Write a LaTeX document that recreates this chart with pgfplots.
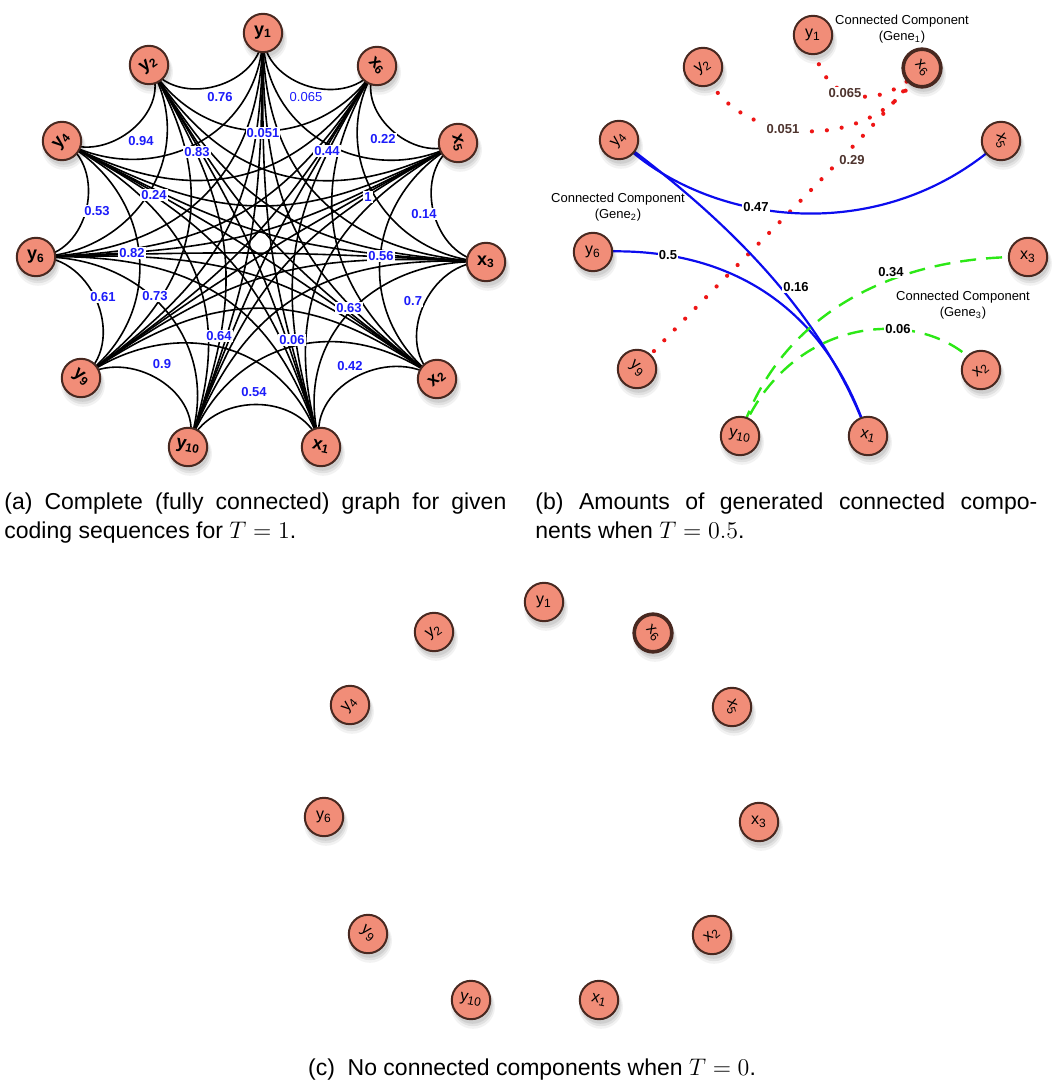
\documentclass[border=0pt]{standalone}
\usepackage{fontspec}
\setmainfont{Liberation Sans}
\setsansfont{Liberation Sans}
\usepackage{pgfplots}
\pgfplotsset{compat=1.18}
\usepackage{pgfplotstable}

\definecolor{nodefill}{RGB}{241,141,120}
\definecolor{nodedraw}{RGB}{72,40,32}
\definecolor{wblue}{RGB}{28,28,250}
\definecolor{wbrown}{RGB}{78,52,46}
\definecolor{cblue}{RGB}{12,12,238}
\definecolor{cgreen}{RGB}{44,232,22}
\definecolor{cred}{RGB}{238,22,22}

% vertex positions, clockwise from y1, with the name and its rotation
\pgfplotstableread{
x y rot name
263 33 0 y\textsubscript{1}
377 66 -45 x\textsubscript{6}
458 143 -75 x\textsubscript{5}
486 262 0 x\textsubscript{3}
437 379 40 x\textsubscript{2}
321 447 -12 x\textsubscript{1}
188 447 -10 y\textsubscript{10}
81 378 -40 y\textsubscript{9}
36 257 0 y\textsubscript{6}
62 141 50 y\textsubscript{4}
149 65 35 y\textsubscript{2}
}\vertA
\pgfplotstableread{
x y rot name
813 35 0 y\textsubscript{1}
922 68 -45 x\textsubscript{6}
1001 141 -75 x\textsubscript{5}
1028 257 0 x\textsubscript{3}
981 370 40 x\textsubscript{2}
868 436 -12 x\textsubscript{1}
740 436 -10 y\textsubscript{10}
637 369 -40 y\textsubscript{9}
593 252 0 y\textsubscript{6}
619 140 50 y\textsubscript{4}
703 67 35 y\textsubscript{2}
}\vertB
\pgfplotstableread{
x y rot name
544 602 0 y\textsubscript{1}
653 633 -45 x\textsubscript{6}
732 707 -75 x\textsubscript{5}
759 822 0 x\textsubscript{3}
712 935 40 x\textsubscript{2}
599 1000 -12 x\textsubscript{1}
471 1000 -10 y\textsubscript{10}
368 934 -40 y\textsubscript{9}
324 817 0 y\textsubscript{6}
350 705 50 y\textsubscript{4}
434 632 35 y\textsubscript{2}
}\vertC

\tikzset{
  wlabel/.style={font=\fontsize{6.5}{7}\selectfont\bfseries, text=wblue, fill=white, inner sep=0.6pt},
  wlabelthin/.style={font=\fontsize{6.5}{7}\selectfont, text=wblue, fill=white, inner sep=0.6pt},
  blabel/.style={font=\fontsize{6.5}{7}\selectfont\bfseries, text=black, fill=white, inner sep=0.6pt},
  rlabel/.style={font=\fontsize{6.5}{7}\selectfont\bfseries, text=wbrown, fill=white, inner sep=0.8pt},
  ccnote/.style={font=\fontsize{6.5}{8}\selectfont, align=center, inner sep=0pt},
  capt/.style={font=\fontsize{11.5}{14.5}\selectfont, inner sep=0pt},
  edgeA/.style={black, line width=0.8pt},
  blueedge/.style={cblue, line width=1.1pt},
  greenedge/.style={cgreen, line width=1.2pt, dash pattern=on 8pt off 5pt},
  rededge/.style={cred, line width=2.1pt, line cap=round, dash pattern=on 0pt off 7.5pt},
}

% shadow, disc and name of every vertex of one panel
\newcommand{\vertices}[2]{%
  \addplot[only marks, mark=*, mark size=11pt,
    mark options={draw opacity=0, fill=black, fill opacity=0.05, xshift=1pt, yshift=-3.4pt}] table[x=x, y=y] {#1};
  \addplot[only marks, mark=*, mark size=10.3pt,
    mark options={draw opacity=0, fill=black, fill opacity=0.07, xshift=1pt, yshift=-2.8pt}] table[x=x, y=y] {#1};
  \addplot[only marks, mark=*, mark size=9.8pt,
    mark options={draw opacity=0, fill=black, fill opacity=0.08, xshift=0.8pt, yshift=-2.1pt}] table[x=x, y=y] {#1};
  \addplot[only marks, mark=*, mark size=9.6pt,
    mark options={draw=nodedraw, line width=1pt, fill=nodefill},
    point meta=explicit symbolic,
    visualization depends on={\thisrow{rot} \as \vrot},
    nodes near coords,
    nodes near coords align={center},
    every node near coord/.append style={font=#2, text=black, inner sep=0pt, anchor=center, rotate=\vrot},
  ] table[x=x, y=y, meta=name] {#1};
}

\begin{document}
\begin{tikzpicture}
\begin{axis}[
  x=0.5pt, y=0.5pt, y dir=reverse,
  xmin=0, xmax=1055, ymin=0, ymax=1080,
  hide axis, clip=false,
]
% keep the whole drawing area in the picture
\path (rel axis cs:0,0) rectangle (rel axis cs:1,1);

% ---------- (a) complete graph ----------
% every edge leaves its vertex heading for the centre (261,250);
% the handle length is 0.45 of the chord
\foreach \i in {0,...,10}{%
  \foreach \j in {0,...,10}{%
    \ifnum\j>\i\relax
      \pgfplotstablegetelem{\i}{x}\of\vertA\let\ax\pgfplotsretval
      \pgfplotstablegetelem{\i}{y}\of\vertA\let\ay\pgfplotsretval
      \pgfplotstablegetelem{\j}{x}\of\vertA\let\bx\pgfplotsretval
      \pgfplotstablegetelem{\j}{y}\of\vertA\let\by\pgfplotsretval
      \pgfmathsetmacro\dd{45*veclen((\bx-\ax)/100,(\by-\ay)/100)}%
      \pgfmathsetmacro\la{100*veclen((261-\ax)/100,(250-\ay)/100)}%
      \pgfmathsetmacro\lb{100*veclen((261-\bx)/100,(250-\by)/100)}%
      \pgfmathsetmacro\uax{(261-\ax)/\la}%
      \pgfmathsetmacro\uay{(250-\ay)/\la}%
      \pgfmathsetmacro\ubx{(261-\bx)/\lb}%
      \pgfmathsetmacro\uby{(250-\by)/\lb}%
      \pgfmathsetmacro\px{\ax+\dd*\uax}%
      \pgfmathsetmacro\py{\ay+\dd*\uay}%
      \pgfmathsetmacro\qx{\bx+\dd*\ubx}%
      \pgfmathsetmacro\qy{\by+\dd*\uby}%
      \edef\temp{\noexpand\draw[edgeA] (axis cs:\ax,\ay) .. controls (axis cs:\px,\py) and (axis cs:\qx,\qy) .. (axis cs:\bx,\by);}%
      \temp
    \fi
  }%
}

\node[wlabel] at (axis cs:220,97) {0.76};
\node[wlabelthin] at (axis cs:306,97) {0.065};
\node[wlabel] at (axis cs:263,133) {0.051};
\node[wlabel] at (axis cs:141,141) {0.94};
\node[wlabel] at (axis cs:197,152) {0.83};
\node[wlabel] at (axis cs:327,151) {0.44};
\node[wlabel] at (axis cs:383,139) {0.22};
\node[wlabel] at (axis cs:154,195) {0.24};
\node[wlabel] at (axis cs:368,197) {1};
\node[wlabel] at (axis cs:97,211) {0.53};
\node[wlabel] at (axis cs:424,214) {0.14};
\node[wlabel] at (axis cs:132,253) {0.82};
\node[wlabel] at (axis cs:381,256) {0.56};
\node[wlabel] at (axis cs:103,297) {0.61};
\node[wlabel] at (axis cs:155,296) {0.73};
\node[wlabel] at (axis cs:413,301) {0.7};
\node[wlabel] at (axis cs:349,308) {0.63};
\node[wlabel] at (axis cs:219,336) {0.64};
\node[wlabel] at (axis cs:292,340) {0.06};
\node[wlabel] at (axis cs:162,364) {0.9};
\node[wlabel] at (axis cs:350,366) {0.42};
\node[wlabel] at (axis cs:254,392) {0.54};

\vertices{\vertA}{\fontsize{9}{9}\selectfont\bfseries}

% ---------- (b) components for T = 0.5 ----------
% Gene1
\draw[rededge] (axis cs:813,35) .. controls (axis cs:815,100) and (axis cs:875,118) .. (axis cs:922,68);
\draw[rededge] (axis cs:703,67) .. controls (axis cs:730,145) and (axis cs:870,160) .. (axis cs:922,68);
\draw[rededge] (axis cs:922,68) .. controls (axis cs:880,125) and (axis cs:730,270) .. (axis cs:637,369);
% Gene2
\draw[blueedge] (axis cs:619,140) .. controls (axis cs:705,225) and (axis cs:880,250) .. (axis cs:1001,141);
\draw[blueedge] (axis cs:619,140) .. controls (axis cs:700,200) and (axis cs:820,300) .. (axis cs:868,436);
\draw[blueedge] (axis cs:593,252) .. controls (axis cs:710,245) and (axis cs:820,290) .. (axis cs:868,436);
% Gene3
\draw[greenedge] (axis cs:1028,257) .. controls (axis cs:900,255) and (axis cs:780,310) .. (axis cs:740,436);
\draw[greenedge] (axis cs:981,370) .. controls (axis cs:930,305) and (axis cs:790,310) .. (axis cs:740,436);

\node[rlabel] at (axis cs:845,93) {0.065};
\node[rlabel] at (axis cs:783,129) {0.051};
\node[rlabel] at (axis cs:852,160) {0.29};
\node[blabel] at (axis cs:756,207) {0.47};
\node[blabel] at (axis cs:668,255) {0.5};
\node[blabel] at (axis cs:796,287) {0.16};
\node[blabel] at (axis cs:891,272) {0.34};
\node[blabel] at (axis cs:898,329) {0.06};

\vertices{\vertB}{\fontsize{8}{8}\selectfont}
\addplot[only marks, mark=o, mark size=9.4pt,
  mark options={draw=nodedraw, line width=1.8pt},
  skip coords between index={0}{1}, skip coords between index={2}{11}] table[x=x, y=y] {\vertB};

\node[ccnote] at (axis cs:902,29) {Connected Component\\(Gene\textsubscript{1})};
\node[ccnote] at (axis cs:618,207) {Connected Component\\(Gene\textsubscript{2})};
\node[ccnote] at (axis cs:963,305) {Connected Component\\(Gene\textsubscript{3})};

% ---------- (c) no components for T = 0 ----------
\vertices{\vertC}{\fontsize{8}{8}\selectfont}
\addplot[only marks, mark=o, mark size=9.4pt,
  mark options={draw=nodedraw, line width=1.8pt},
  skip coords between index={0}{1}, skip coords between index={2}{11}] table[x=x, y=y] {\vertC};

% ---------- captions ----------
\node[capt, anchor=base west, text width=251pt, align=justify] at (axis cs:4,509)
  {(a) Complete (fully connected) graph for given\linebreak coding sequences for $T = 1$.};
\node[capt, anchor=base west, text width=251pt, align=justify] at (axis cs:535,509)
  {(b) Amounts of generated connected compo-\linebreak nents when $T = 0.5$.};
\node[capt, anchor=base] at (axis cs:532,1075)
  {(c)\ \ No connected components when $T = 0$.};

\end{axis}
\end{tikzpicture}
\end{document}
